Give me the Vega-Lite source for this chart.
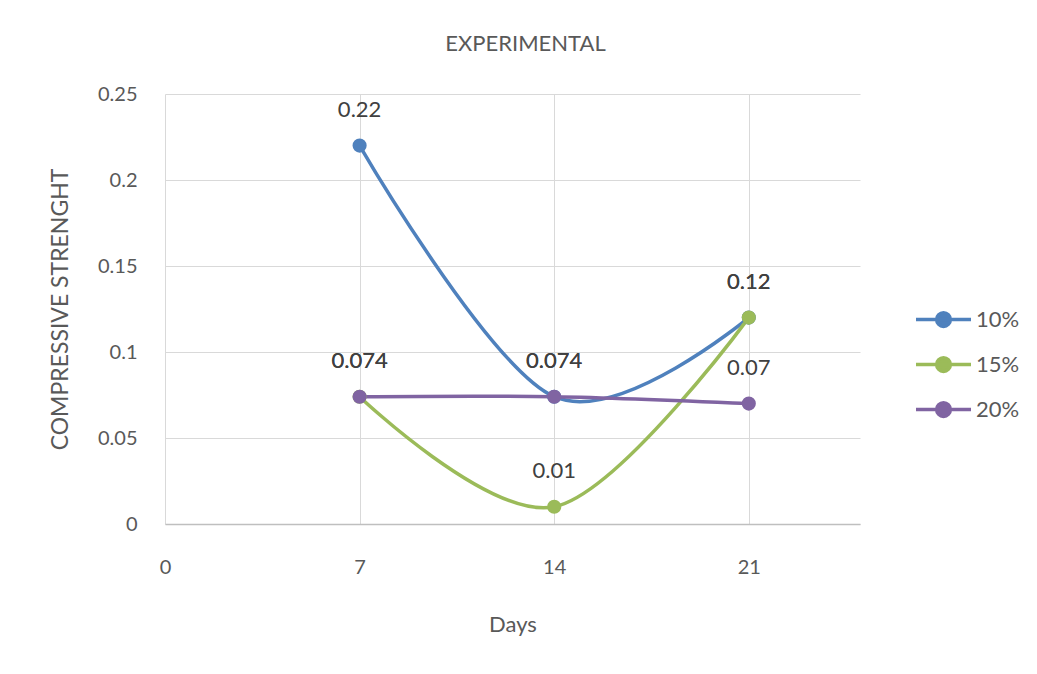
{
  "$schema": "https://vega.github.io/schema/vega-lite/v6.json",
  "width": 695,
  "height": 430,
  "autosize": {"type": "none"},
  "padding": {"left": 165, "top": 94, "right": 177, "bottom": 150},
  "background": "white",
  "config": {
    "font": "Liberation Sans Narrow, Lato, sans-serif",
    "view": {"stroke": null}
  },
  "title": {
    "text": "EXPERIMENTAL",
    "fontSize": 22,
    "fontWeight": "normal",
    "color": "#595959",
    "anchor": "middle",
    "offset": 28,
    "dx": 13
  },
  "data": {
    "values": [
      {"day": 7, "value": 0.22, "series": "10%"},
      {"day": 14, "value": 0.074, "series": "10%"},
      {"day": 21, "value": 0.12, "series": "10%"},
      {"day": 7, "value": 0.074, "series": "15%"},
      {"day": 14, "value": 0.01, "series": "15%"},
      {"day": 21, "value": 0.12, "series": "15%"},
      {"day": 7, "value": 0.074, "series": "20%"},
      {"day": 14, "value": 0.074, "series": "20%"},
      {"day": 21, "value": 0.07, "series": "20%"}
    ]
  },
  "encoding": {
    "x": {
      "field": "day",
      "type": "quantitative",
      "scale": {"domain": [0, 25], "nice": false},
      "axis": {
        "values": [0, 7, 14, 21],
        "title": "Days",
        "titleFontSize": 22,
        "titleFontWeight": "normal",
        "titleColor": "#595959",
        "titleY": 100,
        "titleBaseline": "middle",
        "labelFontSize": 20,
        "labelColor": "#595959",
        "labelPadding": 33,
        "labelFlush": false,
        "ticks": false,
        "domainColor": "#bfbfbf",
        "domainWidth": 1.5,
        "gridColor": "#d9d9d9"
      }
    },
    "y": {
      "field": "value",
      "type": "quantitative",
      "scale": {"domain": [0, 0.25], "nice": false},
      "axis": {
        "values": [0, 0.05, 0.1, 0.15, 0.2, 0.25],
        "format": ".2~f",
        "title": "COMPRESSIVE STRENGHT",
        "titleFontSize": 23,
        "titleFontWeight": "normal",
        "titleColor": "#595959",
        "titleX": -105,
        "titleY": 215,
        "titleAngle": -90,
        "titleAlign": "center",
        "titleBaseline": "middle",
        "labelFontSize": 20,
        "labelColor": "#595959",
        "labelPadding": 28,
        "labelFlush": false,
        "ticks": false,
        "domain": false,
        "gridColor": "#d9d9d9"
      }
    },
    "color": {
      "field": "series",
      "type": "nominal",
      "scale": {"domain": ["10%", "15%", "20%"], "range": ["#4F81BD", "#9BBB59", "#8064A2"]},
      "legend": {
        "title": null,
        "orient": "none",
        "legendX": 749,
        "legendY": 196,
        "symbolType": "M -1 0 L 1 0 M 0.25 0 A 0.25 0.25 0 1 1 -0.25 0 A 0.25 0.25 0 1 1 0.25 0 Z",
        "symbolSize": 3025,
        "symbolStrokeWidth": 3.5,
        "rowPadding": 1,
        "labelFontSize": 22,
        "labelColor": "#595959",
        "labelOffset": 3
      }
    }
  },
  "layer": [
    {"mark": {"type": "line", "interpolate": "cardinal", "strokeWidth": 3.5}},
    {"mark": {"type": "point", "filled": true, "size": 200, "opacity": 1}},
    {
      "mark": {"type": "text", "dy": -36, "fontSize": 22, "baseline": "middle", "color": "#404040"},
      "encoding": {
        "text": {"field": "value", "type": "quantitative"},
        "color": {"value": "#404040"}
      }
    }
  ]
}
